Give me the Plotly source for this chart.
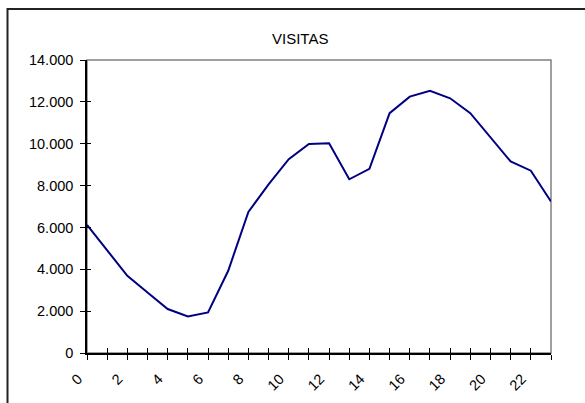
import plotly.graph_objects as go

hours = list(range(24))
visitas = [6120, 4930, 3690, 2890, 2100, 1750, 1940, 3930, 6740, 8060,
           9260, 9990, 10020, 8300, 8800, 11460, 12250, 12530, 12170, 11460,
           10290, 9150, 8710, 7240]
x_tick_vals = list(range(24))
x_tick_text = [str(h) if h % 2 == 0 and h < 23 else "" for h in x_tick_vals]
y_tick_vals = [0, 2000, 4000, 6000, 8000, 10000, 12000, 14000]
title_text = "VISITAS"

W, H = 585, 403
L, R, T, B = 87, 34, 60, 50
pw, ph = W - L - R, H - T - B

def px_x(p):
    return (p - L) / pw

def px_y(p):
    return (H - B - p) / ph

font = dict(family="Liberation Sans, Arial, sans-serif", size=14.5, color="black")

fig = go.Figure()
fig.add_trace(go.Scatter(x=hours, y=visitas, mode="lines",
                         line=dict(color="#000080", width=2), showlegend=False,
                         hoverinfo="skip"))
# invisible trace for overlay axes
fig.add_trace(go.Scatter(x=[0], y=[0], xaxis="x2", yaxis="y2", mode="markers",
                         marker=dict(opacity=0), showlegend=False, hoverinfo="skip"))

fig.update_layout(
    width=W, height=H,
    margin=dict(l=L, r=R, t=T, b=B, pad=0, autoexpand=False),
    paper_bgcolor="white", plot_bgcolor="white",
    separators=",.",
    font=font,
    xaxis=dict(range=[0, 23], tickmode="array", tickvals=x_tick_vals, ticktext=x_tick_text,
               tickangle=-45, ticks="outside", ticklen=5, tickwidth=1, tickcolor="black",
               showline=True, linecolor="black", linewidth=1.5, showgrid=False,
               zeroline=False, tickfont=font, automargin=False,
               ticklabelshift=-9, ticklabelstandoff=5),
    yaxis=dict(range=[0, 14000], tickmode="array", tickvals=y_tick_vals,
               tickformat=",d", ticks="outside", ticklen=5, tickwidth=1, tickcolor="black",
               showline=True, linecolor="black", linewidth=1.5, showgrid=False,
               zeroline=False, tickfont=font, ticklabelstandoff=4, automargin=False),
    xaxis2=dict(range=[0, 23], overlaying="x", tickmode="array", tickvals=x_tick_vals,
                showticklabels=False, ticks="inside", ticklen=5, tickcolor="black",
                showgrid=False, zeroline=False, showline=False, side="bottom"),
    yaxis2=dict(range=[0, 14000], overlaying="y", tickmode="array", tickvals=y_tick_vals,
                showticklabels=False, ticks="inside", ticklen=4, tickcolor="black",
                showgrid=False, zeroline=False, showline=False, side="left"),
    shapes=[
        dict(type="rect", xref="paper", yref="paper", x0=0, x1=1, y0=0, y1=1,
             line=dict(color="#808080", width=1.5), layer="below"),
        dict(type="rect", xref="paper", yref="paper",
             x0=px_x(7.5), x1=px_x(600), y0=px_y(420), y1=px_y(9),
             line=dict(color="#222222", width=2), layer="below"),
    ],
    annotations=[
        dict(text=title_text, xref="paper", yref="paper", x=px_x(300), y=px_y(38),
             xanchor="center", yanchor="middle", showarrow=False,
             font=dict(family="Liberation Sans, Arial, sans-serif", size=15, color="black")),
    ],
)

fig.write_html("out.html", config={"displayModeBar": False},
               post_script="document.body.style.margin='0';document.body.style.padding='0';")
